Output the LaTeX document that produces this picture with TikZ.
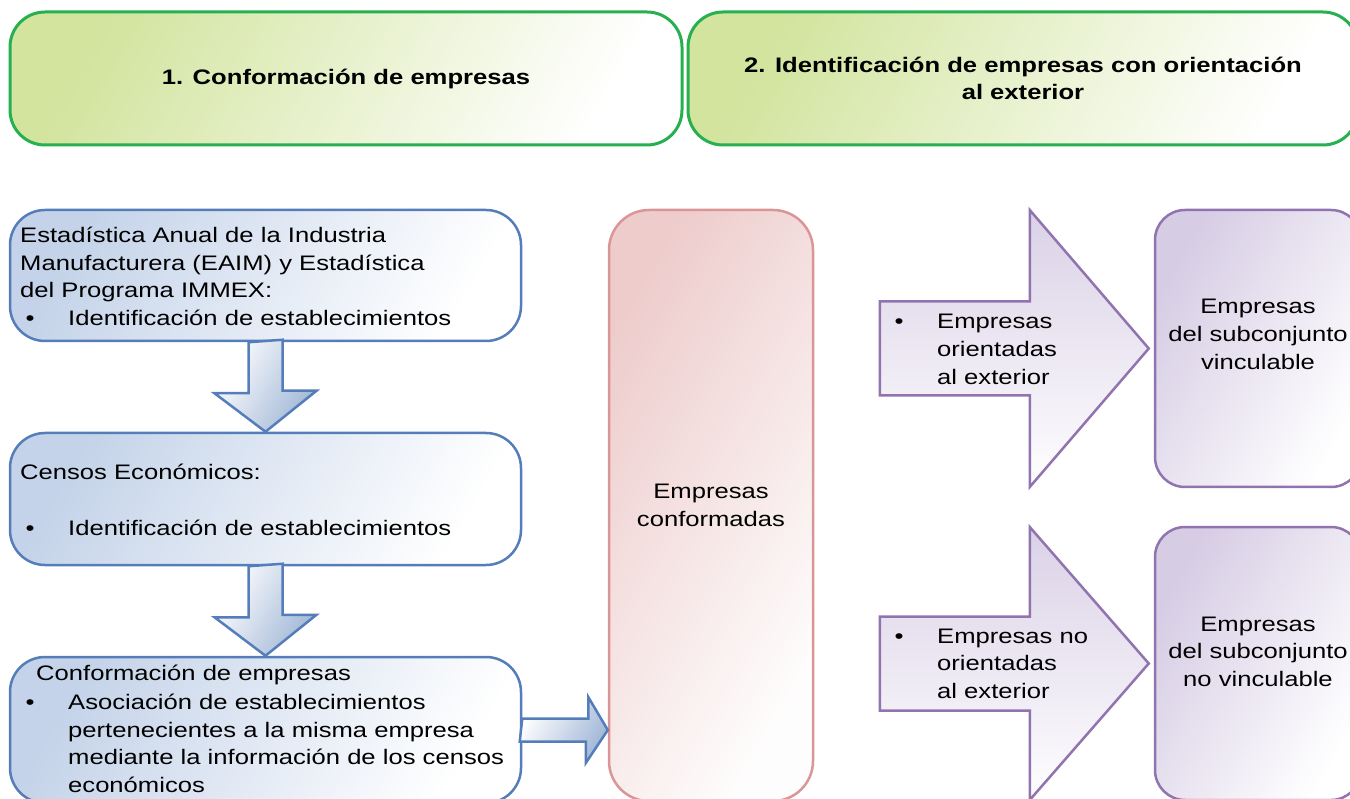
\documentclass[tikz,border=0pt]{standalone}
\usepackage{fontspec}
\setmainfont{Liberation Sans}[FakeStretch=1.22]
\usetikzlibrary{calc}
\definecolor{grnbd}{RGB}{38,176,80}
\definecolor{grnfill}{RGB}{210,228,158}
\definecolor{bluebd}{RGB}{85,125,185}
\definecolor{bluefill}{RGB}{196,211,233}
\definecolor{arrowblue}{RGB}{160,182,214}
\definecolor{pinkbd}{RGB}{218,150,150}
\definecolor{pinkfill}{RGB}{238,204,204}
\definecolor{purpbd}{RGB}{145,115,175}
\definecolor{purpfill}{RGB}{214,204,228}
\newcommand\bulitem{\makebox[42.5pt][l]{•}}
\newcommand\bulind{\hspace*{42.5pt}}
\begin{document}
\begin{tikzpicture}[x=1pt,y=-1pt,
  txt/.style={font=\fontsize{21}{27.6}\selectfont, inner sep=0pt, align=left, anchor=base west},
  ctxt/.style={font=\fontsize{21}{27.6}\selectfont, inner sep=0pt, align=center, anchor=base},
  hdr/.style={draw=grnbd, line width=3pt, rounded corners=35pt, left color=grnfill, right color=white, shading angle=60,
    font=\fontsize{21}{27.6}\selectfont\bfseries, align=center, inner sep=0pt},
  bbox/.style={draw=bluebd, line width=2.5pt, rounded corners=35pt, left color=bluefill, right color=white, shading angle=60},
  pbox/.style={draw=pinkbd, line width=2.5pt, rounded corners=40pt, left color=pinkfill, right color=white!97!pinkfill, shading angle=60,
    font=\fontsize{21}{27.6}\selectfont, align=center, inner sep=0pt},
  vbox/.style={draw=purpbd, line width=2.5pt, rounded corners=30pt, left color=purpfill, right color=white, shading angle=60},
  barrow/.style={draw=bluebd, line width=2.5pt, left color=white, right color=arrowblue, shading angle=60, line join=miter},
  parrow/.style={draw=purpbd, line width=2.5pt, top color=purpfill!90!white, bottom color=white!97!purpfill, line join=miter}
]
\useasboundingbox (0,0) rectangle (1350,799);

% headers
\node[hdr, minimum width=672pt, minimum height=133pt] (h1) at (346,78.5) {1. Conformación de empresas};
\node[hdr, minimum width=670pt, minimum height=133pt] (h2) at (1023,78.5) {2. Identificación de empresas con orientación\\al exterior};

% left boxes
\node[bbox, minimum width=511pt, minimum height=131pt] (b1) at (265.5,275.5) {};
\node[bbox, minimum width=511pt, minimum height=132pt] (b2) at (265.5,499) {};
\node[bbox, minimum width=511pt, minimum height=146pt] (b3) at (265.5,730) {};

% middle box
\node[pbox, minimum width=204pt, minimum height=591pt] (mid) at (711,505.5) {Empresas\\conformadas};

% right boxes
\node[vbox, minimum width=206pt, minimum height=277pt] (r1) at (1258,348.5) {};
\node[vbox, minimum width=206pt, minimum height=273pt] (r2) at (1258,663.5) {};

% blue block arrows
\path[barrow] ($(b1.south)+(-17,0)$) -- ++(0,51) -- ++(-34,0) -- (b2.north) -- ++(51,-41) -- ++(-34,0) -- ++(0,-51) -- cycle;
\path[barrow] ($(b2.south)+(-17,0)$) -- ++(0,51) -- ++(-34,0) -- (b3.north) -- ++(51,-41) -- ++(-34,0) -- ++(0,-51) -- cycle;
\path[barrow] ($(b3.east)+(0,-11.5)$) -- ++(66,0) -- ++(0,-21.5) -- (mid.west |- b3.east) -- ++(-22,33) -- ++(0,-21.5) -- ++(-66,0) -- cycle;

% purple block arrows
\path[parrow] ($(r1.west)+(-274,-47)$) -- ++(150,0) -- ++(0,-91.5) -- ($(r1.west)+(-5,0)$) -- ++(-119,138.5) -- ++(0,-91.5) -- ++(-150,0) -- cycle;
\path[parrow] ($(r2.west)+(-274,-47)$) -- ++(150,0) -- ++(0,-89.5) -- ($(r2.west)+(-5,0)$) -- ++(-119,136.5) -- ++(0,-89.5) -- ++(-150,0) -- cycle;

% texts left (base anchor = baseline of last line)
\node[txt] (t1) at (20,297.7) {Estadística Anual de la Industria\\Manufacturera (EAIM) y Estadística\\del Programa IMMEX:};
\node[txt] (t1b) at (25.5,325.5) {\bulitem Identificación de establecimientos};
\node[txt] (t2) at (20,480) {Censos Económicos:};
\node[txt] (t2b) at (25.5,535) {\bulitem Identificación de establecimientos};
\node[txt] (t3) at (36,680) {Conformación de empresas};
\node[txt] (t3b) at (25.5,792.3) {\bulitem Asociación de establecimientos\\\bulind pertenecientes a la misma empresa\\\bulind mediante la información de los censos\\\bulind económicos};

% texts right
\node[txt] (pa1) at (894.5,384.2) {\bulitem Empresas\\\bulind orientadas\\\bulind al exterior};
\node[txt] (pa2) at (894.5,698.2) {\bulitem Empresas no\\\bulind orientadas\\\bulind al exterior};
\node[ctxt] (rt1) at (1258,369.2) {Empresas\\del subconjunto\\vinculable};
\node[ctxt] (rt2) at (1258,686.2) {Empresas\\del subconjunto\\no vinculable};
\end{tikzpicture}
\end{document}
